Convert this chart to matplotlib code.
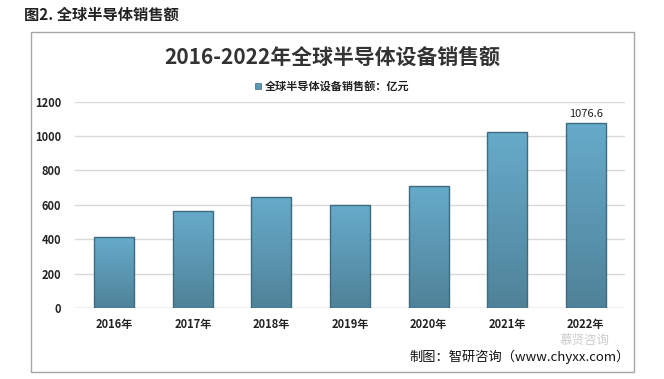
import matplotlib
matplotlib.use("Agg")
import matplotlib.pyplot as plt
import numpy as np
from matplotlib.patches import Rectangle
from matplotlib.colors import LinearSegmentedColormap

plt.rcParams['font.family'] = ['Noto Sans CJK SC', 'DejaVu Sans']

categories = ['2016年', '2017年', '2018年', '2019年', '2020年', '2021年', '2022年']
values = [412.4, 566.0, 645.3, 598.0, 711.9, 1026.0, 1076.6]
yticks = [0, 200, 400, 600, 800, 1000, 1200]
title = '2016-2022年全球半导体设备销售额'
legend_label = '全球半导体设备销售额：亿元'
heading = '图2. 全球半导体销售额'
source = '制图：智研咨询（www.chyxx.com）'
watermark = '慕贤咨询'

W, H = 664, 379
fig = plt.figure(figsize=(W / 100, H / 100), dpi=100)
fig.patch.set_facecolor('white')

# outer frame
fig.add_artist(Rectangle((31 / W, 1 - 372 / H), (634 - 31) / W, (372 - 32) / H,
                         transform=fig.transFigure, fill=False,
                         edgecolor='#a6a6a6', linewidth=1.0))

fig.text(24 / W, 1 - 15 / H, heading, fontsize=11, fontweight='bold',
         color='#222222', va='center', ha='left')

ax = fig.add_axes([75 / W, 1 - 308 / H, (625 - 75) / W, (308 - 101.7) / H])
ax.set_xlim(-0.5, len(categories) - 0.5)
ax.set_ylim(0, 1200)
ax.set_yticks(yticks)
ax.set_yticklabels([str(v) for v in yticks])
ax.set_xticks(range(len(categories)))
ax.set_xticklabels(categories)
for s in ax.spines.values():
    s.set_visible(False)
ax.tick_params(length=0, labelsize=8, colors='#222222')
ax.tick_params(axis='y', pad=10)
ax.tick_params(axis='x', pad=7)
for lab in ax.get_xticklabels() + ax.get_yticklabels():
    lab.set_fontweight('bold')
ax.grid(axis='y', color='#d9d9d9', linewidth=1.0)
ax.set_axisbelow(True)
ax.axhline(0, color='#d0d0d0', linewidth=1.0, zorder=1)

cmap = LinearSegmentedColormap.from_list('bar', ['#4f8298', '#5b97b2', '#66abca'])
grad = np.linspace(0, 1, 256).reshape(-1, 1)
width = 0.51
bars = ax.bar(range(len(categories)), values, width=width, color='none',
              edgecolor='#3d6b80', linewidth=1.0, zorder=3, label=legend_label)
for b in bars:
    x0 = b.get_x()
    h = b.get_height()
    im = ax.imshow(grad, extent=[x0, x0 + width, 0, h], aspect='auto',
                   cmap=cmap, origin='lower', zorder=2)
    im.set_clip_path(b)

ax.text(len(categories) - 1, values[-1] + 25, f'{values[-1]:g}',
        ha='center', va='bottom', fontsize=8, color='#222222')

fig.text(332 / W, 1 - 57 / H, title, fontsize=15, fontweight='bold',
         color='#333333', ha='center', va='center')

# legend
fig.add_artist(Rectangle((255 / W, 1 - 89 / H), 6 / W, 6 / H,
                         transform=fig.transFigure, facecolor='#5b97b2',
                         edgecolor='#3d6b80', linewidth=0.5))
fig.text(265 / W, 1 - 86 / H, legend_label, fontsize=8, fontweight='bold',
         color='#222222', ha='left', va='center')

fig.text(584 / W, 1 - 340 / H, watermark, fontsize=9, color='#cccccc',
         ha='center', va='center')
fig.text(409 / W, 1 - 357 / H, source, fontsize=9.5, color='#111111',
         ha='left', va='center')

fig.savefig('out.png', dpi=100, facecolor='white')
